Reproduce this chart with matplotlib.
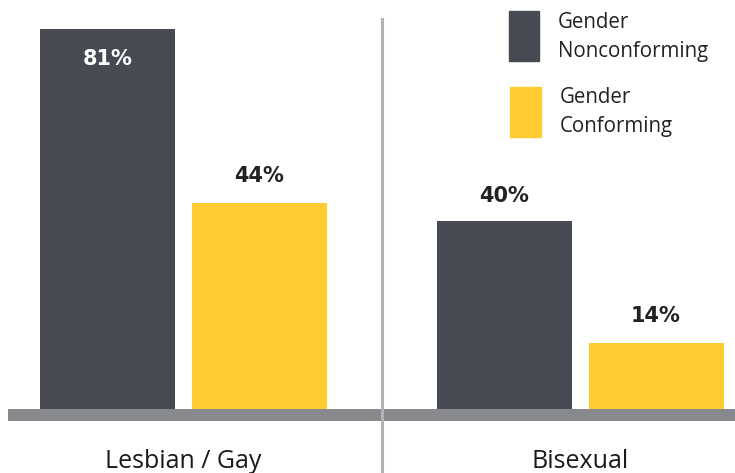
import matplotlib
matplotlib.use("Agg")
import matplotlib.pyplot as plt
import numpy as np

categories = ["Lesbian / Gay", "Bisexual"]
series_names = ["Gender\nNonconforming", "Gender\nConforming"]
nonconforming = [81, 40]
conforming = [44, 14]
colors = ["#474a53", "#fecb31"]

W, H = 735, 473
fig = plt.figure(figsize=(W / 100, H / 100), dpi=100)
ax = fig.add_axes([0, 0, 1, 1])
ax.set_axis_off()

px_per_unit_x = 396.5
x0_px = 183.5
ax.set_xlim(-x0_px / px_per_unit_x, (W - x0_px) / px_per_unit_x)
base_px = 64
px_per_pct = 380 / 81
ax.set_ylim(-base_px / px_per_pct, (H - base_px) / px_per_pct)

x = np.arange(len(categories))
bw = 135 / px_per_unit_x
off = 76 / px_per_unit_x

ax.bar(x - off, nonconforming, bw, color=colors[0], zorder=2)
ax.bar(x + off, conforming, bw, color=colors[1], zorder=2)

font = "DejaVu Sans"
lab_kw = dict(ha="center", va="center", fontsize=15, fontweight="bold", family=font)
for i, v in enumerate(nonconforming):
    if i == 0:
        ax.text(x[i] - off, v - 30 / px_per_pct, f"{v}%", color="white", **lab_kw)
    else:
        ax.text(x[i] - off, v + 25 / px_per_pct, f"{v}%", color="#222222", **lab_kw)
for i, v in enumerate(conforming):
    ax.text(x[i] + off, v + 27 / px_per_pct, f"{v}%", color="#222222", **lab_kw)

# baseline band
ax.axhspan(-12 / px_per_pct, 0, xmin=8 / W, xmax=1, color="#87898d", lw=0, zorder=1)
# divider
ax.axvline(0.5, ymin=0, ymax=(H - 19) / H, color="#b3b3b3", lw=2.2, zorder=3)

for i, c in enumerate(categories):
    ax.text(x[i], -(461 - 409) / px_per_pct, c, ha="center", va="center",
            fontsize=18, family="Open Sans", fontweight="medium", color="#1a1a1a")

# legend
fig.patches.append(plt.Rectangle((509 / W, 1 - 61 / H), 30 / W, 50 / H,
                                 transform=fig.transFigure, color=colors[0]))
fig.patches.append(plt.Rectangle((510 / W, 1 - 137 / H), 31 / W, 50 / H,
                                 transform=fig.transFigure, color=colors[1]))
fig.text(558 / W, 1 - 37 / H, series_names[0], ha="left", va="center",
         fontsize=14.8, family="Open Sans", color="#222222", linespacing=1.5)
fig.text(560 / W, 1 - 112 / H, series_names[1], ha="left", va="center",
         fontsize=14.8, family="Open Sans", color="#222222", linespacing=1.5)

fig.savefig("out.png", dpi=100, facecolor="white")
